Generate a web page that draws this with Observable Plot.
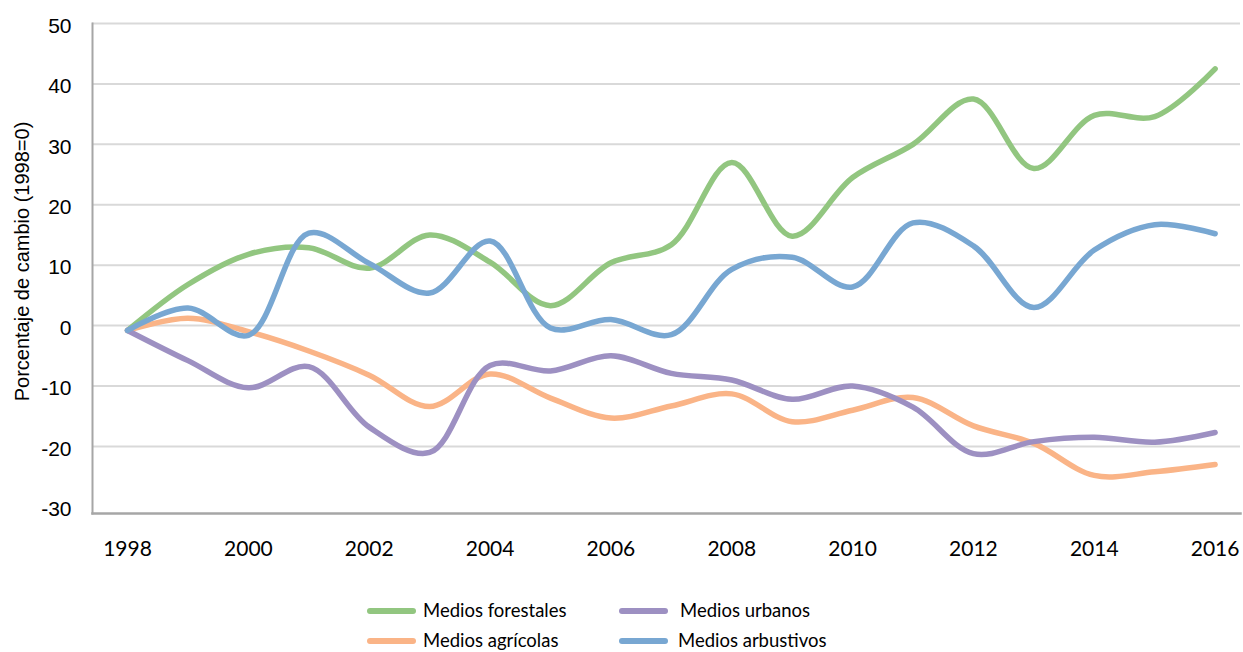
<!DOCTYPE html>
<html><head><meta charset="utf-8">
<script src="https://cdn.jsdelivr.net/npm/d3@7"></script>
<script src="https://cdn.jsdelivr.net/npm/@observablehq/plot@0.6"></script>
<style>
body{margin:0;background:#fff;font-family:Lato, "Open Sans", sans-serif;overflow:hidden;}
#legend{position:relative;height:72px;font-size:18.5px;color:#000;}
.item{position:absolute;display:flex;align-items:center;white-space:nowrap;}
.sw{width:49px;height:6px;border-radius:3px;}
svg text{font-weight:400;}
</style></head><body><div id="chart"></div><div id="legend"></div>
<script>
const years = [1998,1999,2000,2001,2002,2003,2004,2005,2006,2007,2008,2009,2010,2011,2012,2013,2014,2015,2016];
const forestales = [-0.8, 6.8, 11.8, 12.9, 9.5, 15, 10.5, 3.3, 10.4, 13.4, 27, 14.8, 24.5, 30, 37.5, 26, 34.8, 34.6, 42.5];
const agricolas  = [-0.8, 1.2, -1, -4.2, -8.2, -13.4, -8, -12, -15.3, -13.3, -11.3, -15.9, -14, -11.9, -16.6, -19.5, -24.8, -24.2, -23];
const urbanos    = [-0.8, -5.8, -10.3, -6.8, -16.8, -21, -6.6, -7.5, -5, -7.9, -9, -12.2, -10, -13.5, -21.2, -19.2, -18.5, -19.3, -17.7];
const arbustivos = [-0.8, 2.9, -1.6, 15.3, 10.3, 5.4, 14, -0.4, 1, -1.5, 9.3, 11.3, 6.4, 17, 13.2, 3, 12.5, 16.7, 15.2];
const seriesNames = ["Medios forestales","Medios agrícolas","Medios urbanos","Medios arbustivos"];
const seriesColors = ["#92c680","#fab487","#9d90c2","#78a7d2"];
const yTicks = [-30,-20,-10,0,10,20,30,40,50];
const xTicks = [1998,2000,2002,2004,2006,2008,2010,2012,2014,2016];
const yLabel = "Porcentaje de cambio (1998=0)";

const seriesValues = [forestales, agricolas, urbanos, arbustivos];
const rows = seriesNames.flatMap((name, s) => years.map((yr, i) => ({year: yr, value: seriesValues[s][i], serie: name})));

const chart = Plot.plot({
  width: 1243, height: 580,
  marginLeft: 92, marginRight: 3, marginTop: 23, marginBottom: 67,
  style: {fontFamily: "Lato, 'Open Sans', sans-serif", fontSize: "21px", fontWeight: "400", color: "#000", background: "#fff"},
  x: {domain: [1997.42, 2016.42]},
  y: {domain: [-31.1, 50]},
  color: {domain: seriesNames, range: seriesColors},
  marks: [
    Plot.ruleY(yTicks.filter(d => d > -30), {stroke: "#d9d9d9", strokeWidth: 2}),
    Plot.frame({anchor: "bottom", stroke: "#a6a6a6", strokeWidth: 2.5}),
    Plot.frame({anchor: "left", stroke: "#a6a6a6", strokeWidth: 2}),
    Plot.axisY({ticks: yTicks, tickSize: 0, tickPadding: 21, dy: 2.5, label: null, fontSize: 21, fontWeight: 400,
      fontFamily: "'Liberation Sans', Arial, sans-serif", tickFormat: d => String(d)}),
    Plot.axisX({ticks: xTicks, tickSize: 0, tickPadding: 28, tickFormat: d => String(d), label: null, fontSize: 21, fontWeight: 400,
      fontFamily: "Lato, sans-serif"}),
    Plot.text([yLabel], {frameAnchor: "left", textAnchor: "middle", dx: -69.5, dy: -7, rotate: -90, fontSize: 20, fontWeight: 400,
      fontFamily: "'Liberation Sans', Arial, sans-serif", fill: "#000"}),
    Plot.line(rows, {x: "year", y: "value", z: "serie", stroke: "serie", strokeWidth: 5.5, curve: "catmull-rom", strokeLinecap: "round", strokeLinejoin: "round"})
  ]
});
document.getElementById("chart").append(chart);

const legendPos = [
  {name: "Medios forestales", sw: 367, tx: 423, top: 18},
  {name: "Medios urbanos", sw: 619, tx: 680, top: 18},
  {name: "Medios agrícolas", sw: 367, tx: 423, top: 48},
  {name: "Medios arbustivos", sw: 619, tx: 678, top: 48}
];
const leg = document.getElementById("legend");
legendPos.forEach(p => {
  const c = seriesColors[seriesNames.indexOf(p.name)];
  const sw = document.createElement("div");
  sw.className = "sw";
  sw.style.cssText = `position:absolute;left:${p.sw}px;top:${p.top + 10}px;background:${c}`;
  const tx = document.createElement("div");
  tx.className = "item";
  tx.style.cssText = `left:${p.tx}px;top:${p.top}px;height:24px;`;
  tx.textContent = p.name;
  leg.append(sw, tx);
});
</script></body></html>
